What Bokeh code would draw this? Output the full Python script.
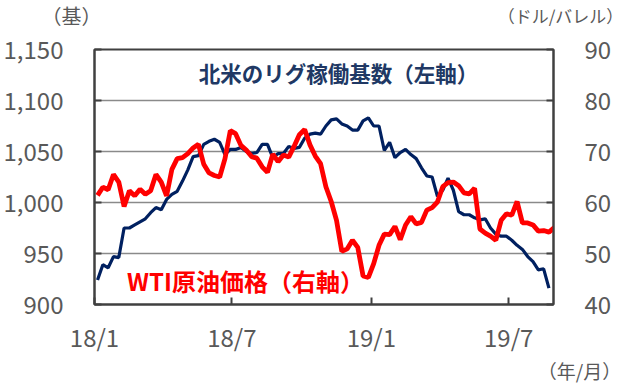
import pandas as pd
from bokeh.plotting import figure
from bokeh.layouts import column
from bokeh.models import (Range1d, LinearAxis, FixedTicker, NumeralTickFormatter,
                          Label, ColumnDataSource)
from bokeh.embed import file_html
from bokeh.resources import INLINE

# ---- data -------------------------------------------------------------
rig_start = "2018-01-05"
rig_count = [
    924, 939, 936, 947, 946, 975, 975, 978, 981, 984, 990, 995, 993,
    1003, 1008, 1011, 1021, 1032, 1045, 1046, 1057, 1060, 1062, 1059, 1047, 1052,
    1052, 1054, 1050, 1048, 1049, 1057, 1057, 1044, 1048, 1048, 1055, 1053, 1054,
    1063, 1067, 1068, 1067, 1075, 1081, 1082, 1077, 1075, 1071, 1071, 1080, 1083,
    1075, 1075, 1051, 1059, 1044, 1049, 1052, 1047, 1043, 1034, 1026, 1025, 1006,
    1012, 1024, 1012, 991, 988, 988, 985, 983, 984, 975, 969, 967, 967,
    963, 958, 954, 947, 942, 934, 935, 916,
]
wti_start = "2018-01-05"
wti_price = [
    61.4, 63.0, 62.5, 65.5, 64.0, 59.2, 62.3, 61.3, 62.6, 61.6, 62.3, 65.5, 64.0,
    61.3, 66.5, 68.6, 68.8, 69.6, 70.7, 71.4, 67.5, 65.8, 65.3, 65.0, 68.6, 74.1,
    73.5, 71.2, 70.3, 69.0, 68.7, 67.0, 65.9, 69.5, 68.0, 69.3, 68.9, 71.0, 73.3,
    74.3, 71.3, 69.1, 67.6, 63.1, 60.2, 56.5, 50.4, 50.9, 52.6, 51.2, 45.6, 45.3,
    48.0, 51.6, 53.8, 53.7, 55.3, 52.7, 55.6, 57.2, 55.8, 56.1, 58.5, 59.0, 60.1,
    63.1, 63.9, 64.0, 63.3, 61.9, 61.7, 62.8, 54.8, 54.0, 53.4, 52.6, 56.5, 57.8,
    57.5, 60.2, 56.0, 56.0, 55.6, 54.4, 54.5, 54.2, 55.1,
]
x_tick_dates = ["2018-01-01", "2018-07-01", "2019-01-01", "2019-07-01"]
x_tick_labels = ["18/1", "18/7", "19/1", "19/7"]
left_ticks = [900, 950, 1000, 1050, 1100, 1150]
right_ticks = [40, 50, 60, 70, 80, 90]

origin = pd.Timestamp("2018-01-01")
def days(ts):
    return [(pd.Timestamp(t) - origin).days for t in ts]

rig_dates = pd.date_range(rig_start, periods=len(rig_count), freq="7D")
wti_dates = pd.date_range(wti_start, periods=len(wti_price), freq="7D")
rig_src = ColumnDataSource(dict(x=days(rig_dates), y=rig_count))
wti_src = ColumnDataSource(dict(x=days(wti_dates), y=wti_price))
xt = days(x_tick_dates)

# ---- styles -----------------------------------------------------------
GRAY = "#595959"
FONT = "Noto Sans CJK JP"
NAVY = "#002060"
RED = "#ff0000"
W = 627

def label(fig, x, y, text, color, size, bold=False):
    fig.add_layout(Label(x=x, y=y, x_units="screen", y_units="screen", text=text,
                         text_color=color, text_font=FONT, text_font_size=size,
                         text_font_style="bold" if bold else "normal",
                         text_align="center", text_baseline="middle"))

def strip(h):
    f = figure(width=W, height=h, output_backend="svg", toolbar_location=None,
               x_range=Range1d(0, W), y_range=Range1d(0, h),
               x_axis_location=None, y_axis_location=None,
               min_border_left=0, min_border_right=0, min_border_top=0,
               min_border_bottom=0, border_fill_color="white")
    f.outline_line_color = None
    f.xgrid.visible = False
    f.ygrid.visible = False
    f.frame_align = False
    return f

# ---- top strip: axis units -------------------------------------------
top = strip(31)
label(top, 71, 16, "（基）", GRAY, "20px")
label(top, 560, 16, "（ドル/バレル）", GRAY, "17px")

# ---- main chart -------------------------------------------------------
p = figure(width=W, height=325, output_backend="svg", toolbar_location=None,
           x_range=Range1d(0, 605), y_range=Range1d(900, 1150),
           min_border_left=94, min_border_right=74, min_border_top=18,
           min_border_bottom=49, background_fill_color="white",
           border_fill_color="white")
p.frame_align = False
p.extra_y_ranges = {"wti": Range1d(40, 90)}

p.outline_line_color = "#404040"
p.outline_line_width = 2
p.xgrid.visible = False
p.ygrid.ticker = FixedTicker(ticks=left_ticks)
p.ygrid.grid_line_color = "#8a8a8a"
p.ygrid.grid_line_width = 1.5

la = p.yaxis[0]
la.ticker = FixedTicker(ticks=left_ticks)
la.formatter = NumeralTickFormatter(format="0,0")
ba = p.xaxis[0]
ba.ticker = FixedTicker(ticks=xt)
ba.major_label_overrides = {v: s for v, s in zip(xt, x_tick_labels)}
ra = LinearAxis(y_range_name="wti", ticker=FixedTicker(ticks=right_ticks))
p.add_layout(ra, "right")

for ax in (la, ba, ra):
    ax.axis_line_color = "#404040"
    ax.axis_line_width = 2
    ax.major_tick_line_color = "#404040"
    ax.major_tick_line_width = 2
    ax.major_tick_in = 7
    ax.major_tick_out = 0
    ax.minor_tick_line_color = None
    ax.major_label_text_font = FONT
    ax.major_label_text_font_size = "24px"
    ax.major_label_text_color = GRAY
la.major_label_standoff = 31
ra.major_label_standoff = 31
ba.major_label_standoff = 14

p.line("x", "y", source=rig_src, line_color=NAVY, line_width=3.2)
p.line("x", "y", source=wti_src, y_range_name="wti", line_color=RED,
       line_width=4.8)

label(p, 244, 232, "北米のリグ稼働基数（左軸）", "#203864", "21.5px", bold=True)
label(p, 151, 24, "WTI原油価格（右軸）", RED, "24px", bold=True)

# ---- bottom strip: x unit ---------------------------------------------
bottom = strip(28)
label(bottom, 579, 14, "（年/月）", GRAY, "19px")

layout = column(top, p, bottom, spacing=0)
open("out.html", "w").write(file_html(layout, INLINE))
